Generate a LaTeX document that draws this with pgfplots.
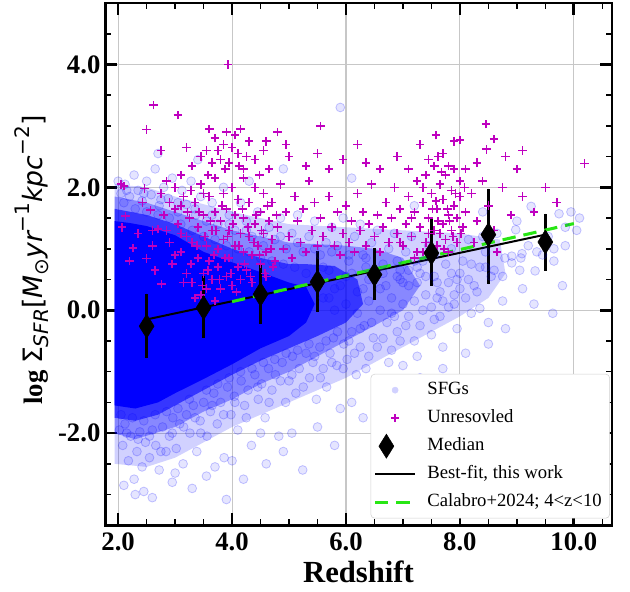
\documentclass[border=0pt]{standalone}
\usepackage{fontspec}
\setmainfont{Liberation Serif}
\newfontfamily\djv{DejaVu Sans}
\usepackage{pgfplots}
\pgfplotsset{compat=1.18}

\definecolor{mag}{rgb}{0.75,0,0.75}
\definecolor{calgreen}{RGB}{40,230,20}

% plus mark that carries its own colour
\pgfdeclareplotmark{magplus}{%
  \pgfsetstrokecolor{mag}%
  \pgfsetlinewidth{1.2pt}%
  \pgfpathmoveto{\pgfqpoint{-\pgfplotmarksize}{0pt}}%
  \pgfpathlineto{\pgfqpoint{\pgfplotmarksize}{0pt}}%
  \pgfpathmoveto{\pgfqpoint{0pt}{-\pgfplotmarksize}}%
  \pgfpathlineto{\pgfqpoint{0pt}{\pgfplotmarksize}}%
  \pgfusepathqstroke}

\newcommand{\ysub}[1]{\raisebox{-0.22em}{\fontsize{15}{15}\selectfont #1}}
\newcommand{\ysup}[1]{\raisebox{0.48em}{\fontsize{15}{15}\selectfont #1}}

% median log Sigma_SFR per redshift bin
\pgfplotstableread{
z    m     ep    em
2.5 -0.26  0.53  0.52
3.5  0.04  0.51  0.49
4.5  0.26  0.49  0.49
5.5  0.46  0.50  0.49
6.5  0.58  0.43  0.41
7.5  0.93  0.55  0.53
8.5  1.23  0.75  0.81
9.5  1.11  0.46  0.47
}\medians

% star-forming galaxies outside the crowded core
\pgfplotstableread{
x y
2.02 -1.95
2.08 -2.2
2.12 -1.85
2.18 -2.45
2.22 -2.05
2.28 -2.75
2.33 -2.3
2.38 -1.98
2.42 -2.55
2.48 -2.15
2.55 -2.4
2.6 -1.95
2.66 -2.2
2.72 -2.6
2.78 -1.9
2.84 -2.3
2.9 -2.05
2.96 -1.75
3.02 -2.25
3.08 -1.85
3.14 -2.5
3.2 -1.7
3.26 -2.0
3.32 -1.55
3.38 -2.3
3.44 -1.8
3.5 -1.5
3.56 -2.05
3.62 -1.65
3.68 -1.35
3.74 -1.85
3.8 -1.5
3.86 -2.4
3.9 -3.08
3.92 -1.25
3.98 -1.7
4.04 -1.4
4.1 -1.95
4.16 -1.15
4.22 -1.55
4.28 -1.3
4.34 -2.2
4.4 -1.05
4.46 -1.45
4.52 -1.2
4.58 -1.75
4.64 -0.95
4.7 -1.3
4.76 -1.05
4.82 -2.05
4.88 -0.85
4.94 -1.5
5.0 -1.15
5.06 -0.75
5.12 -1.35
5.18 -0.95
5.24 -2.6
5.3 -0.7
5.36 -1.1
5.42 -0.85
5.48 -1.45
5.54 -0.6
5.6 -0.95
5.66 -1.25
5.72 -0.7
5.78 -0.45
5.84 -0.9
5.9 -1.6
5.96 -0.55
6.02 -0.8
6.1 -0.35
6.18 -1.05
6.25 -0.6
6.32 -0.25
6.4 -0.75
6.48 -0.45
6.55 -1.3
6.65 -0.46
6.72 -0.2
6.8 -0.65
6.9 -0.35
7.0 -0.9
7.1 -0.1
7.2 -0.5
7.3 -0.25
7.45 -1.55
7.55 -0.15
7.7 -0.6
7.8 0.05
7.95 -0.3
8.1 0.2
8.35 0.03
8.5 -0.2
8.75 0.15
9.1 0.35
9.63 -0.05
2.3 -3.0
2.1 -2.85
3.55 -2.7
2.95 -2.8
4.6 -2.5
5.05 -2.0
6.3 -1.75
2.05 -1.7
2.15 -2.0
2.25 -1.75
2.35 -2.1
2.45 -1.8
2.55 -2.05
2.65 -1.7
2.75 -2.3
2.85 -1.65
2.95 -2.0
3.05 -1.6
3.15 -1.9
3.25 -1.45
3.35 -1.75
3.45 -2.0
3.55 -1.3
3.65 -1.55
3.75 -1.2
3.85 -1.7
3.95 -1.1
4.05 -1.5
4.15 -1.0
4.25 -1.75
4.35 -0.95
4.45 -1.25
4.55 -0.85
4.65 -1.5
4.75 -0.8
4.85 -1.15
4.95 -0.7
5.05 -1.05
5.15 -0.65
5.25 -1.25
5.35 -0.55
5.45 -0.75
5.55 -1.1
5.65 -0.5
5.75 -0.85
5.85 -0.35
5.95 -0.95
6.05 -0.5
6.15 -0.7
6.25 -0.3
6.35 -0.95
6.45 -0.2
6.55 -0.6
6.75 -0.85
6.85 -0.1
6.95 -0.5
7.05 -0.25
7.25 -0.75
7.35 0.0
7.5 -0.4
7.65 -0.1
7.9 0.1
8.2 -0.05
2.45 -2.95
2.6 -3.05
3.0 -2.65
3.3 -2.9
3.7 -2.55
4.0 -2.45
4.2 -2.75
4.5 -2.0
4.9 -2.3
5.5 -1.9
5.8 -2.2
6.1 -1.5
6.6 -1.65
6.9 -1.25
7.3 -1.1
7.7 -0.95
8.1 -0.7
8.5 -0.55
8.8 -0.3
9.3 0.1
9.8 0.4
2.0 2.1
2.05 1.9
2.12 2.05
2.2 1.85
2.28 2.2
2.35 1.95
2.42 1.78
2.5 2.1
2.58 1.88
2.65 2.3
2.72 1.7
2.8 2.0
2.88 1.82
2.95 2.15
3.05 1.6
3.12 1.95
3.2 1.72
3.28 2.1
3.36 1.55
3.45 1.85
3.55 1.45
3.65 1.75
3.75 1.4
3.85 2.0
3.95 1.55
4.05 1.3
4.15 1.75
4.25 1.45
4.35 1.2
4.45 1.6
4.55 1.05
4.65 1.35
4.75 1.15
4.85 1.5
4.95 1.0
5.05 1.25
5.15 1.55
5.25 0.95
5.35 1.2
5.45 1.45
5.55 0.9
5.65 1.1
5.75 1.35
5.85 1.05
5.95 1.5
6.05 0.9
6.15 1.2
6.25 1.4
6.35 0.85
6.45 1.1
6.55 1.3
6.65 0.75
6.75 1.0
6.85 1.25
6.95 0.65
7.05 0.95
7.15 1.2
7.25 0.45
7.35 0.8
7.45 1.05
7.55 0.55
7.65 0.3
7.75 0.75
7.85 1.0
7.95 0.5
8.05 0.8
8.15 1.15
8.25 0.4
8.35 0.7
8.45 0.95
8.55 0.55
8.65 1.25
8.79 0.85
8.91 0.88
8.91 0.77
8.98 1.31
9.07 0.85
9.09 0.92
9.2 1.05
9.25 1.69
9.32 0.64
9.45 0.9
9.55 1.2
9.65 0.8
9.74 1.57
9.85 1.05
9.95 1.6
10.05 1.3
5.9 3.3
6.1 2.15
4.9 2.3
3.4 2.45
2.7 2.55
4.3 2.1
7.2 1.7
8.4 1.6
9.0 1.45
2.1 1.75
2.3 1.65
2.5 1.6
2.7 1.55
2.9 1.5
3.1 1.4
3.3 1.3
3.5 1.2
3.7 1.15
3.9 1.05
4.1 1.0
4.3 0.95
4.5 0.85
4.7 0.8
4.9 0.75
5.1 0.7
5.3 0.6
2.15 1.95
2.45 1.9
2.75 1.8
3.05 1.75
3.35 1.65
3.65 1.55
3.95 1.4
4.25 1.3
4.55 1.25
4.85 1.2
5.15 1.1
5.45 1.0
5.75 0.95
6.05 0.8
6.35 0.7
6.65 0.6
6.95 0.5
7.25 0.7
7.55 0.9
7.85 0.6
8.15 0.5
8.45 0.7
8.75 0.55
9.05 0.65
9.35 0.95
9.65 1.0
9.85 1.35
10.1 1.5
5.5 0.5
5.6 0.2
5.7 0.65
5.8 0.0
5.9 0.4
6.0 0.1
6.1 0.6
6.2 -0.05
6.3 0.35
6.4 0.15
6.5 0.6
6.6 0.0
6.7 0.4
6.8 0.2
6.9 0.55
7.0 0.1
7.1 0.4
7.2 0.15
7.3 0.6
7.4 0.25
7.5 0.05
7.6 0.45
7.7 0.15
7.9 0.25
8.0 0.6
8.2 0.75
5.6 0.7
5.8 0.35
6.0 0.55
6.2 0.3
6.4 0.5
6.6 0.35
6.8 -0.05
7.0 0.45
7.2 0.8
7.4 0.55
7.6 0.2
7.8 0.45
8.0 0.35
8.3 0.3
8.6 0.65
8.4 1.2
7.1 0.65
6.3 0.9
5.7 0.2
6.9 0.8
}\sfgs

% unresolved sources
\pgfplotstableread{
x y
2.62 3.34
2.5 2.94
2.75 2.6
3.05 3.18
3.3 2.35
3.45 2.5
3.6 2.95
3.7 2.8
3.75 2.6
3.85 2.7
3.93 4.0
3.95 2.4
4.05 2.85
4.1 2.55
4.2 2.3
4.3 2.75
4.4 2.45
4.55 2.6
4.65 2.3
4.8 2.9
4.95 2.7
5.0 2.5
5.3 2.35
5.55 3.0
5.5 2.55
5.7 2.3
5.95 2.45
6.2 2.7
6.35 2.4
6.6 2.3
6.9 2.5
7.1 2.3
7.3 2.7
7.45 2.45
7.58 2.85
7.7 2.55
7.8 2.35
7.9 2.75
8.0 2.77
8.1 2.3
8.46 3.03
8.6 2.79
8.47 2.62
8.3 2.4
8.8 2.5
9.0 2.3
9.1 2.6
10.19 2.39
2.2 0.8
2.26 1.01
2.5 0.84
2.76 0.43
2.1 2.02
2.05 2.05
2.46 1.98
2.43 1.75
2.57 1.63
2.7 1.32
2.13 1.53
2.07 1.35
2.35 1.25
2.6 1.05
2.65 0.65
2.75 1.9
2.8 1.55
2.85 1.3
2.9 1.1
2.95 0.75
3.0 1.65
3.05 1.4
3.1 0.95
3.15 1.85
3.2 1.2
3.2 0.6
2.85 2.1
3.0 2.0
3.1 1.7
3.25 1.5
3.3 1.1
3.3 0.45
3.35 1.75
3.4 0.85
3.4 1.35
3.45 0.25
3.45 2.05
3.5 0.6
3.5 1.55
3.55 1.05
3.55 0.35
3.6 1.85
3.6 0.8
3.65 1.3
3.65 0.5
3.7 1.6
3.7 0.15
3.7 2.15
3.35 0.2
3.5 1.9
3.75 1.0
3.75 0.7
3.8 1.45
3.8 0.35
3.85 1.9
3.85 1.15
3.9 0.55
3.9 1.65
3.95 0.85
3.95 1.3
4.0 2.0
4.0 0.4
4.05 1.05
4.05 1.55
4.1 0.7
4.1 1.8
4.15 1.25
4.15 0.5
4.2 0.95
4.2 1.5
4.2 2.15
4.25 0.65
4.3 1.2
4.3 1.75
4.35 0.9
4.35 0.45
4.4 1.4
4.4 2.0
4.45 1.05
4.5 0.75
4.5 1.6
4.55 1.25
4.55 1.9
4.6 0.95
4.6 0.55
4.65 1.45
4.7 1.15
4.7 1.75
4.75 0.8
4.8 1.35
4.85 2.05
4.9 1.0
4.95 1.6
5.0 1.2
5.05 0.85
5.1 1.85
5.15 1.45
5.2 1.1
5.25 1.65
5.3 0.95
5.35 2.1
5.4 1.3
5.45 1.75
5.5 1.05
5.55 1.5
5.6 1.2
5.7 1.85
5.75 1.35
5.8 1.05
5.85 1.6
5.9 0.9
5.95 1.25
6.0 1.7
6.05 1.1
6.1 1.45
6.15 0.95
6.2 1.9
6.25 1.3
6.3 1.6
6.35 1.05
6.4 1.4
6.45 2.05
6.5 1.2
6.55 1.55
6.6 0.95
6.65 1.35
6.7 1.75
6.75 1.1
6.8 1.5
6.85 2.0
6.9 1.25
6.95 1.65
7.0 1.05
7.05 1.4
7.1 1.85
7.15 1.2
7.2 1.6
7.25 0.95
7.25 2.1
7.3 1.35
7.35 1.75
7.4 1.1
7.4 2.2
7.45 1.5
7.5 1.9
7.5 0.85
7.55 1.3
7.55 2.35
7.6 1.65
7.6 1.05
7.65 2.05
7.7 1.4
7.7 1.8
7.75 1.15
7.75 2.2
7.8 1.55
7.8 0.95
7.85 1.95
7.85 1.3
7.9 2.3
7.9 1.7
7.95 1.1
7.95 1.5
8.0 2.1
8.0 1.85
8.05 1.35
8.1 1.6
7.65 1.25
7.82 1.45
7.58 1.78
7.72 1.0
8.2 1.9
8.3 1.45
8.4 2.1
8.5 1.7
8.6 1.3
8.75 2.0
8.9 1.55
9.1 1.85
9.3 1.6
9.5 2.0
9.7 1.75
8.65 0.95
8.25 1.1
3.0 0.9
3.1 1.25
3.15 0.45
3.22 1.6
3.28 0.75
3.38 1.05
3.42 1.6
3.48 0.4
3.52 1.2
3.58 0.65
3.62 1.45
3.68 0.9
3.72 1.3
3.78 0.5
3.82 1.7
3.88 0.85
3.92 1.2
3.98 0.6
4.02 1.4
4.08 0.3
4.12 1.05
4.18 1.65
4.22 0.75
4.28 1.35
4.32 0.55
4.38 1.1
4.42 1.55
4.48 0.9
4.52 1.3
4.58 0.6
4.62 1.7
4.68 1.0
4.72 0.7
4.78 1.55
3.28 1.95
3.58 2.2
3.88 2.3
4.48 2.2
4.12 2.35
3.1 2.2
2.9 1.75
2.6 1.3
3.55 2.6
3.65 2.4
4.0 2.65
4.25 2.5
4.6 2.75
3.9 2.9
4.15 2.95
3.2 2.65
3.8 2.45
7.35 0.95
7.45 1.25
7.52 1.65
7.62 1.45
7.68 2.25
7.78 1.65
7.88 1.2
7.92 1.9
8.02 1.25
8.08 2.0
7.62 2.5
7.35 2.0
7.15 1.5
6.95 1.1
7.2 0.85
}\unres

\begin{document}
\begin{tikzpicture}
\begin{axis}[
  name=ax,
  scale only axis,
  width=380pt, height=391.5pt,
  xmin=1.77, xmax=10.67, ymin=-3.5, ymax=5.0,
  xtick={2,4,6,8,10}, xticklabels={2.0,4.0,6.0,8.0,10.0},
  ytick={-2,0,2,4}, yticklabels={-2.0,0.0,2.0,4.0},
  minor xtick={2.5,3,3.5,4.5,5,5.5,6.5,7,7.5,8.5,9,9.5,10.5},
  minor ytick={-3,-2.5,-1.5,-1,-0.5,0.5,1,1.5,2.5,3,3.5,4.5},
  tick align=inside, tick pos=both,
  major tick length=9pt, minor tick length=4.5pt,
  major tick style={line width=2pt, black},
  minor tick style={line width=1.2pt, black},
  axis line style={line width=2.2pt, black},
  grid=major, major grid style={line width=0.8pt, color=black!22},
  tick label style={font=\bfseries\fontsize{20}{20}\selectfont},
  xticklabel style={yshift=-2pt},
  xlabel={Redshift},
  xlabel style={font=\bfseries\fontsize{23}{23}\selectfont, yshift=-1pt},
  ylabel={\bfseries log\mdseries\ {\djv Σ\ysub{\itshape SFR}[\itshape M\ysub{\upshape ⊙}yr\ysup{\upshape −1}kpc\ysup{\upshape −2}\upshape]}},
  ylabel style={font=\fontsize{20}{20}\selectfont, xshift=3pt},
  legend cell align=left,
  legend style={
    at={(0.996,0.013)}, anchor=south east,
    draw=black!18, rounded corners=3pt, fill=white,
    font=\fontsize{14}{16}\selectfont,
    inner xsep=2pt, inner ysep=1.5pt,
    nodes={inner ysep=3pt, text height=11pt, text depth=4pt, inner xsep=4pt},
    /tikz/every odd column/.style={column sep=4pt},
  },
]

% crowded core of the SFG cloud, drawn as stacked density areas
\addplot[fill=blue, draw=none, fill opacity=0.18, forget plot] coordinates {
  (1.94,-2.5) (2.5,-2.55) (3.0,-2.4) (3.5,-2.15) (4.0,-1.9) (4.5,-1.7) (5.0,-1.5)
  (5.5,-1.3) (6.0,-1.1) (6.5,-0.85) (7.0,-0.6) (7.5,-0.35) (8.0,-0.1) (8.5,0.2)
  (8.8,0.6) (8.7,1.15) (8.0,1.25) (7.0,1.3) (6.0,1.35) (5.0,1.4) (4.0,1.6)
  (3.0,1.85) (2.5,2.0) (1.94,2.05)} --cycle;
\addplot[fill=blue, draw=none, fill opacity=0.35, forget plot] coordinates {
  (1.94,-2.0) (2.3,-2.1) (3.0,-1.9) (3.5,-1.65) (4.0,-1.45) (4.5,-1.2) (5.0,-1.0)
  (5.5,-0.75) (6.0,-0.5) (6.5,-0.25) (7.0,0.0) (7.3,0.4) (7.0,0.85) (6.5,1.0)
  (6.0,1.05) (5.0,1.1) (4.0,1.3) (3.0,1.6) (2.5,1.75) (1.94,1.85)} --cycle;
\addplot[fill=blue, draw=none, fill opacity=0.6, forget plot] coordinates {
  (1.94,-1.75) (2.3,-1.8) (2.7,-1.7) (3.0,-1.55) (3.5,-1.3) (4.0,-1.05) (4.5,-0.82)
  (5.0,-0.62) (5.5,-0.42) (6.0,-0.2) (6.3,0.1) (6.2,0.5) (5.8,0.72) (5.3,0.75)
  (5.0,0.75) (4.5,0.85) (4.0,1.0) (3.5,1.2) (3.0,1.4) (2.5,1.55) (1.94,1.65)} --cycle;
\addplot[fill=blue, draw=none, forget plot] coordinates {
  (1.94,-1.55) (2.3,-1.6) (2.7,-1.5) (3.0,-1.35) (3.5,-1.12) (4.0,-0.88) (4.5,-0.62)
  (5.0,-0.42) (5.3,-0.2) (5.45,0.1) (5.3,0.38) (5.0,0.45) (4.5,0.62) (4.0,0.78)
  (3.5,0.95) (3.0,1.22) (2.5,1.37) (2.2,1.42) (1.94,1.45)} --cycle;

\addplot[only marks, mark=*, mark size=3.3pt,
  mark options={draw=blue, fill=blue, draw opacity=0.22, fill opacity=0.1, line width=0.6pt},
  legend image code/.code={\fill[blue!18] (0.53cm,0cm) circle (2.3pt);}]
  table[x=x, y=y] {\sfgs};
\addlegendentry{SFGs}

\addplot[only marks, mark=magplus, mark size=3.2pt, draw=mag, fill=mag,
  legend image code/.code={\draw[draw=mag, line width=1.1pt] (0.53cm,-3pt)--(0.53cm,3pt) (0.53cm-3pt,0cm)--(0.53cm+3pt,0cm);}]
  table[x=x, y=y] {\unres};
\addlegendentry{Unresovled}

\addplot[only marks, mark=diamond*, mark size=9pt, draw=black, fill=black,
  mark options={xscale=0.83, draw=black, fill=black},
  error bars/.cd, y dir=both, y explicit, error mark=none,
  error bar style={line width=2pt, black}]
  table[x=z, y=m, y error plus=ep, y error minus=em] {\medians};
\addlegendentry{Median}

\addplot[black, line width=1.5pt,
  legend image code/.code={\draw[black, line width=1.5pt] (0cm,0cm)--(1.06cm,0cm);}]
  coordinates {(2.5,-0.15) (9.5,1.23)};
\addlegendentry{Best-fit, this work}

\addplot[calgreen, line width=2.3pt, dash pattern=on 10pt off 6pt,
  legend image code/.code={\draw[calgreen, line width=2.3pt, dash pattern=on 10pt off 6pt] (0cm,0cm)--(1.06cm,0cm);}]
  coordinates {(4,0.14) (10,1.41)};
\addlegendentry{Calabro+2024; 4<z<10}

\end{axis}
\pgfresetboundingbox
\path ([xshift=-78.75pt,yshift=-49.5pt]ax.south west) rectangle ([xshift=13.5pt,yshift=2.25pt]ax.north east);
\end{tikzpicture}
\end{document}
